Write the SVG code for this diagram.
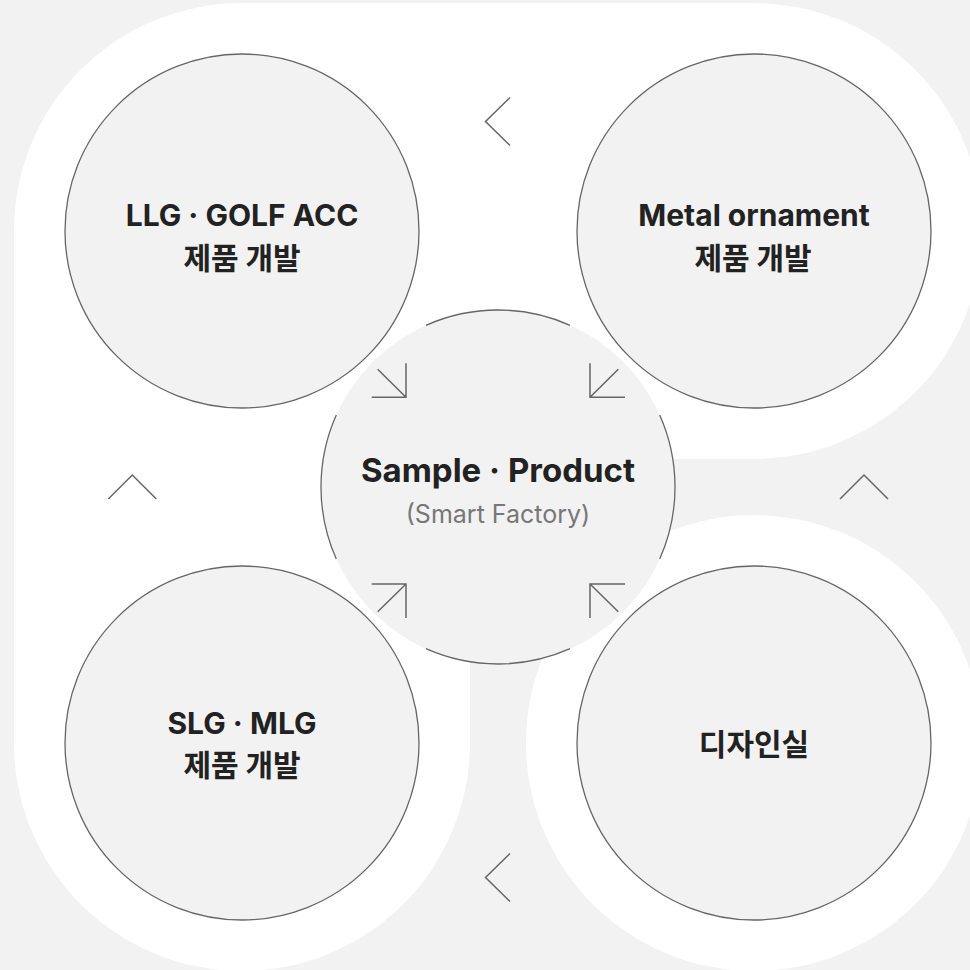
<svg xmlns="http://www.w3.org/2000/svg" width="970" height="970" viewBox="0 0 970 970">
<style>
.node{fill:#f2f2f2;stroke:#666;stroke-width:1.3}
.t{font-family:"Inter","Noto Sans CJK KR",sans-serif;font-weight:700;fill:#222;text-anchor:middle}
.ko{font-family:"Noto Sans CJK KR",sans-serif;font-weight:700;fill:#222;text-anchor:middle}
.sub{font-family:"Inter","Noto Sans CJK KR",sans-serif;font-weight:400;fill:#777;text-anchor:middle}
.ln{fill:none;stroke:#666;stroke-width:1.5}
.bg{fill:#fff}
</style>
<rect width="970" height="970" fill="#f2f2f2"/>
<g id="background">
<circle class="bg" cx="242" cy="231" r="228"/>
<circle class="bg" cx="754" cy="231" r="228"/>
<circle class="bg" cx="242" cy="743" r="228"/>
<circle class="bg" cx="754" cy="743" r="228"/>
<rect class="bg" x="242" y="3" width="512" height="456"/>
<rect class="bg" x="14" y="231" width="456" height="512"/>
</g>
<g id="node-llg">
<circle class="node" cx="242" cy="231" r="177"/>
<text class="t" x="242" y="226" font-size="30">LLG · GOLF ACC</text>
<text class="ko" x="242" y="269" font-size="30">제품 개발</text>
</g>
<g id="node-metal">
<circle class="node" cx="754" cy="231" r="177"/>
<text class="t" x="754" y="226" font-size="30">Metal ornament</text>
<text class="ko" x="753" y="269" font-size="30">제품 개발</text>
</g>
<g id="node-slg">
<circle class="node" cx="242" cy="743" r="177"/>
<text class="t" x="242" y="734" font-size="30">SLG · MLG</text>
<text class="ko" x="242" y="776" font-size="30">제품 개발</text>
</g>
<g id="node-design">
<circle class="node" cx="754" cy="743" r="177"/>
<text class="ko" x="754" y="755" font-size="30">디자인실</text>
</g>
<g id="node-center">
<circle cx="498" cy="487" r="177" fill="#f2f2f2"/>
<path class="ln" style="stroke-width:1.3" d="M426,325.3 A177,177 0 0 1 570,325.3 M659.7,415 A177,177 0 0 1 659.7,559 M570,648.7 A177,177 0 0 1 426,648.7 M336.3,559 A177,177 0 0 1 336.3,415"/>
<text class="t" x="498" y="482" font-size="33">Sample · Product</text>
<text class="sub" x="498" y="523" font-size="25">(Smart Factory)</text>
</g>
<g id="connectors">
<path class="ln" d="M510,97.5 L485.5,121.5 L510,145.5"/>
<path class="ln" d="M510,853.5 L485.5,877.5 L510,901.5"/>
<path class="ln" d="M108.3,499 L132.3,475 L156.3,499"/>
<path class="ln" d="M840,499 L864,475 L888,499"/>
<path class="ln" d="M371.7,397.3 H406 V363.3 M377.7,369.3 L406,397.3"/>
<path class="ln" d="M625,397.3 H590 V363.3 M618.3,369.3 L590,397.3"/>
<path class="ln" d="M371.7,584 H406 V618 M377.7,611.7 L406,584"/>
<path class="ln" d="M625,584 H590 V618 M618.3,611.7 L590,584"/>
</g>
</svg>
